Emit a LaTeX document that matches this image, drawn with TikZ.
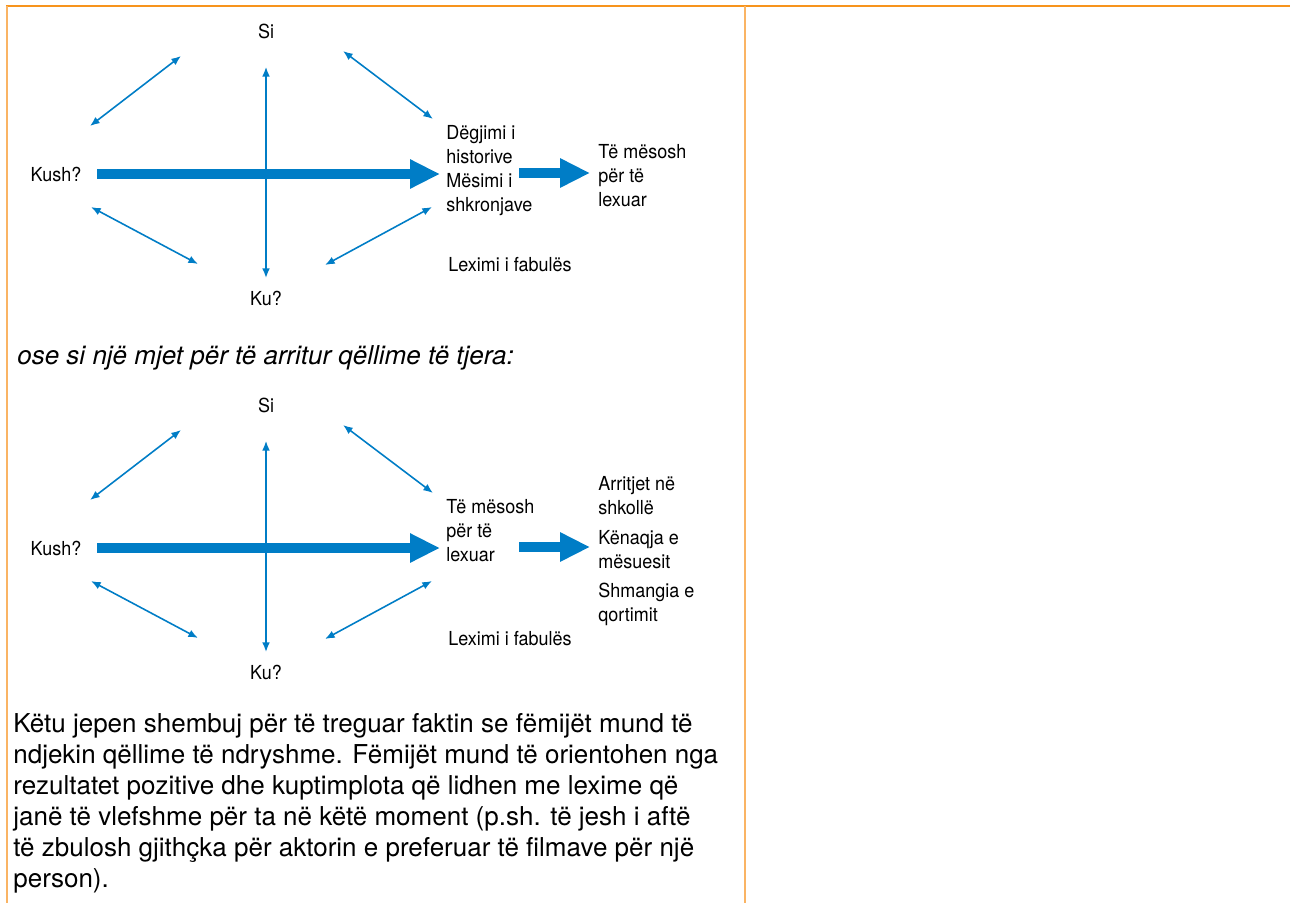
\documentclass[tikz,border=0pt]{standalone}
\usepackage{fontspec}
\setmainfont{TeX Gyre Heros}
\newfontfamily\condfont[FakeStretch=0.93]{TeX Gyre Heros}
\usetikzlibrary{arrows.meta}
\definecolor{lesBlue}{RGB}{0, 125, 198}
\definecolor{lesOrange}{RGB}{247, 148, 29}
\definecolor{lesLightOrange}{RGB}{250, 180, 100}

\begin{document}
\begin{tikzpicture}[
  x=0.02cm, y=-0.02cm,
  txt/.style={font=\condfont\fontsize{11}{13.6}\selectfont, inner sep=0pt, align=left},
  body/.style={font=\fontsize{14.8}{17.6}\selectfont, inner sep=0pt, align=left, anchor=north west},
  link/.style={{Latex[length=5.5pt,width=4.4pt]}-{Latex[length=5.5pt,width=4.4pt]}, lesBlue, line width=0.9pt},
  bigarrow/.style={-{Triangle[length=17pt,width=15.5pt]}, lesBlue, line width=6.2pt},
  frame/.style={line width=1.2pt}
]
\useasboundingbox (0,0) rectangle (1290,903);

% page frame
\draw[frame, lesOrange] (6,6) -- (1290,6);
\draw[frame, lesLightOrange] (7,6) -- (7,903);
\draw[frame, lesLightOrange] (745,6) -- (745,903);

% the two diagrams share the same star of questions
\foreach \d/\dy in {1/0, 2/374} {
  \node[txt] (si\d) at (266,31+\dy) {Si};
  \node[txt] (ku\d) at (266,298+\dy) {Ku?};
  \node[txt] (kush\d) at (56,174+\dy) {Kush?};
  \coordinate (nwA\d) at (90,126+\dy);
  \coordinate (nwB\d) at (181,56+\dy);
  \coordinate (neA\d) at (343,51+\dy);
  \coordinate (neB\d) at (433,119+\dy);
  \coordinate (swA\d) at (91,207+\dy);
  \coordinate (swB\d) at (198,264+\dy);
  \coordinate (seA\d) at (325,265+\dy);
  \coordinate (seB\d) at (432,207+\dy);
  \coordinate (out\d) at (519,173+\dy);
  \draw[link] (nwA\d) -- (nwB\d);
  \draw[link] (neA\d) -- (neB\d);
  \draw[link] (swA\d) -- (swB\d);
  \draw[link] (seA\d) -- (seB\d);
  \draw[link, shorten <=16pt, shorten >=7pt] (si\d) -- (ku\d);
}

% first diagram
\node[txt, anchor=north west] (mid1) at (446,125) {Dëgjimi i\\historive\\Mësimi i\\shkronjave};
\node[txt, anchor=north west] (goal1) at (598,144) {Të mësosh\\për të\\lexuar};
\node[txt, anchor=west] (fab1) at (448,265) {Leximi i fabulës};
\draw[bigarrow, shorten <=9pt, shorten >=3.4pt] (kush1) -- (kush1 -| mid1.west);
\draw[bigarrow, shorten >=4.5pt] (out1) -- (out1 -| goal1.west);

\node[body, font=\itshape\fontsize{14.8}{17.6}\selectfont] (between) at (17,345) {ose si një mjet për të arritur qëllime të tjera:};

% second diagram
\node[txt, anchor=north west] (goal2) at (446,499) {Të mësosh\\për të\\lexuar};
\node[txt, anchor=north west] (reach) at (598,476) {Arritjet në\\shkollë\\[3.4pt]Kënaqja e\\mësuesit\\[3.4pt]Shmangia e\\qortimit};
\node[txt, anchor=west] (fab2) at (448,639) {Leximi i fabulës};
\draw[bigarrow, shorten <=9pt, shorten >=3.4pt] (kush2) -- (kush2 -| goal2.west);
\draw[bigarrow, shorten >=4.5pt] (out2) -- (out2 -| reach.west);

\node[body] (note) at (13,713) {Këtu jepen shembuj për të treguar faktin se fëmijët mund të\\
ndjekin qëllime të ndryshme. Fëmijët mund të orientohen nga\\
rezultatet pozitive dhe kuptimplota që lidhen me lexime që\\
janë të vlefshme për ta në këtë moment (p.sh. të jesh i aftë\\
të zbulosh gjithçka për aktorin e preferuar të filmave për një\\
person).};
\end{tikzpicture}
\end{document}
